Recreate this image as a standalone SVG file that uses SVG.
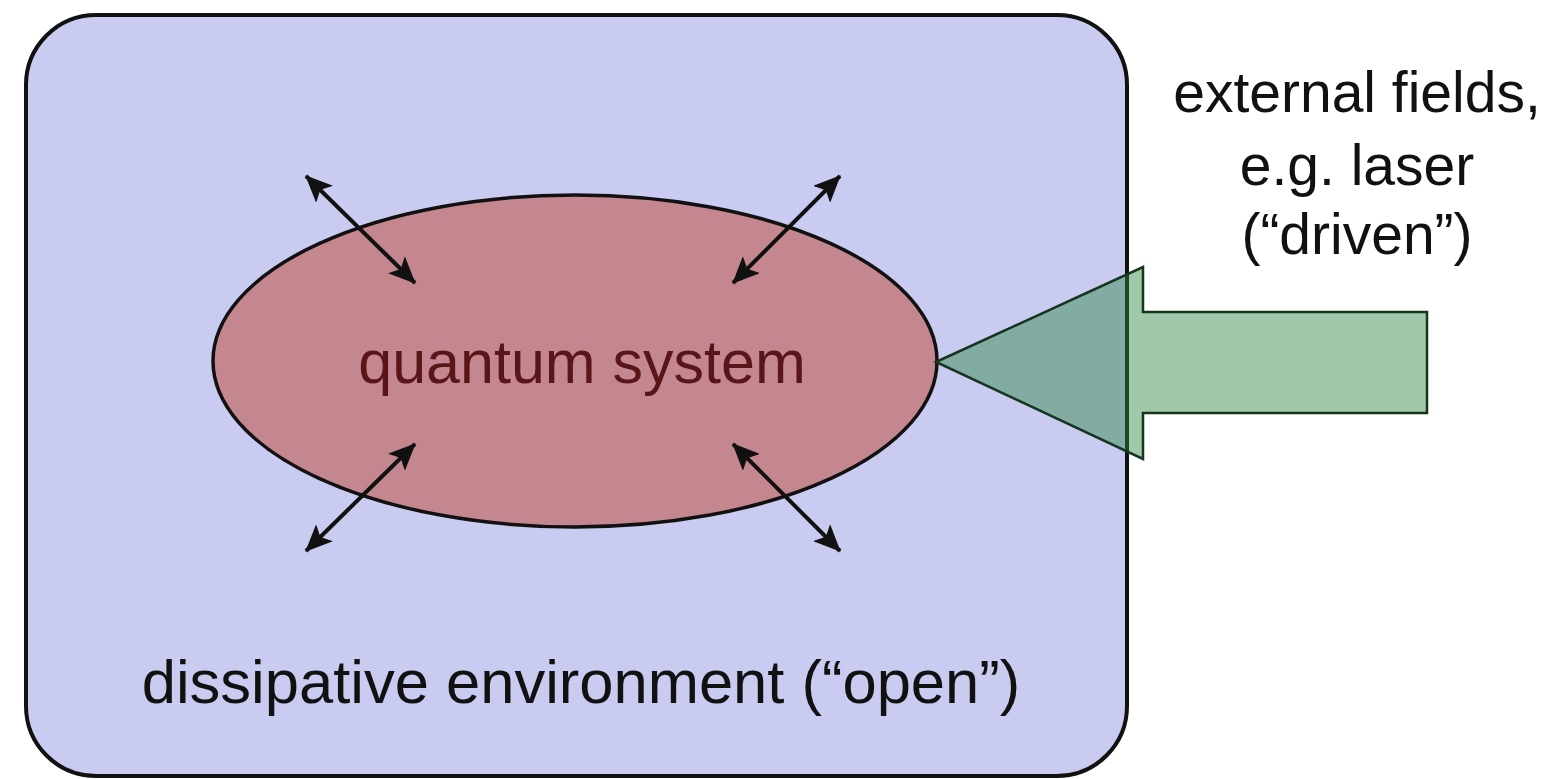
<svg xmlns="http://www.w3.org/2000/svg" width="1558" height="779" viewBox="0 0 1558 779">
<style>
  .lbl { font-family: "Liberation Sans", Arial, sans-serif; fill: #111; text-anchor: middle; }
  .sys { font-family: "Liberation Sans", Arial, sans-serif; fill: #5a1518; text-anchor: middle; }
  .conn { stroke: #111; stroke-width: 4; fill: none; marker-start: url(#ah); marker-end: url(#ah); }
</style>
<defs>
  <marker id="ah" viewBox="0 0 27 24" refX="26" refY="12" markerWidth="27" markerHeight="24" markerUnits="userSpaceOnUse" orient="auto-start-reverse">
    <path d="M0,0 L27,12 L0,24 L6,12 Z" fill="#111"/>
  </marker>
</defs>
<rect width="1558" height="779" fill="#ffffff"/>
<g id="environment">
  <rect x="26" y="15" width="1101" height="761" rx="70" ry="70" fill="#c9cbf0" stroke="#111" stroke-width="4"/>
  <text class="lbl" x="581" y="703" font-size="61.5">dissipative environment (“open”)</text>
</g>
<g id="quantum-system">
  <ellipse cx="575" cy="361" rx="362" ry="166" fill="#c4868f" stroke="#111" stroke-width="3.5"/>
  <text class="sys" x="582" y="383" font-size="61">quantum system</text>
</g>
<g id="external-fields">
  <polygon points="936,362 1143,267 1143,312 1427,312 1427,413 1143,413 1143,459" fill="#2c8540" fill-opacity="0.45" stroke="#16351f" stroke-width="2.5" stroke-linejoin="miter"/>
  <text class="lbl" x="1357" y="112" font-size="57">external fields,</text>
  <text class="lbl" x="1357" y="185" font-size="57">e.g. laser</text>
  <text class="lbl" x="1357" y="254" font-size="57">(“driven”)</text>
</g>
<g id="connectors">
  <line class="conn" x1="306" y1="176" x2="415" y2="283"/>
  <line class="conn" x1="840" y1="176" x2="733" y2="283"/>
  <line class="conn" x1="306" y1="551" x2="415" y2="444"/>
  <line class="conn" x1="840" y1="551" x2="733" y2="444"/>
</g>
</svg>
